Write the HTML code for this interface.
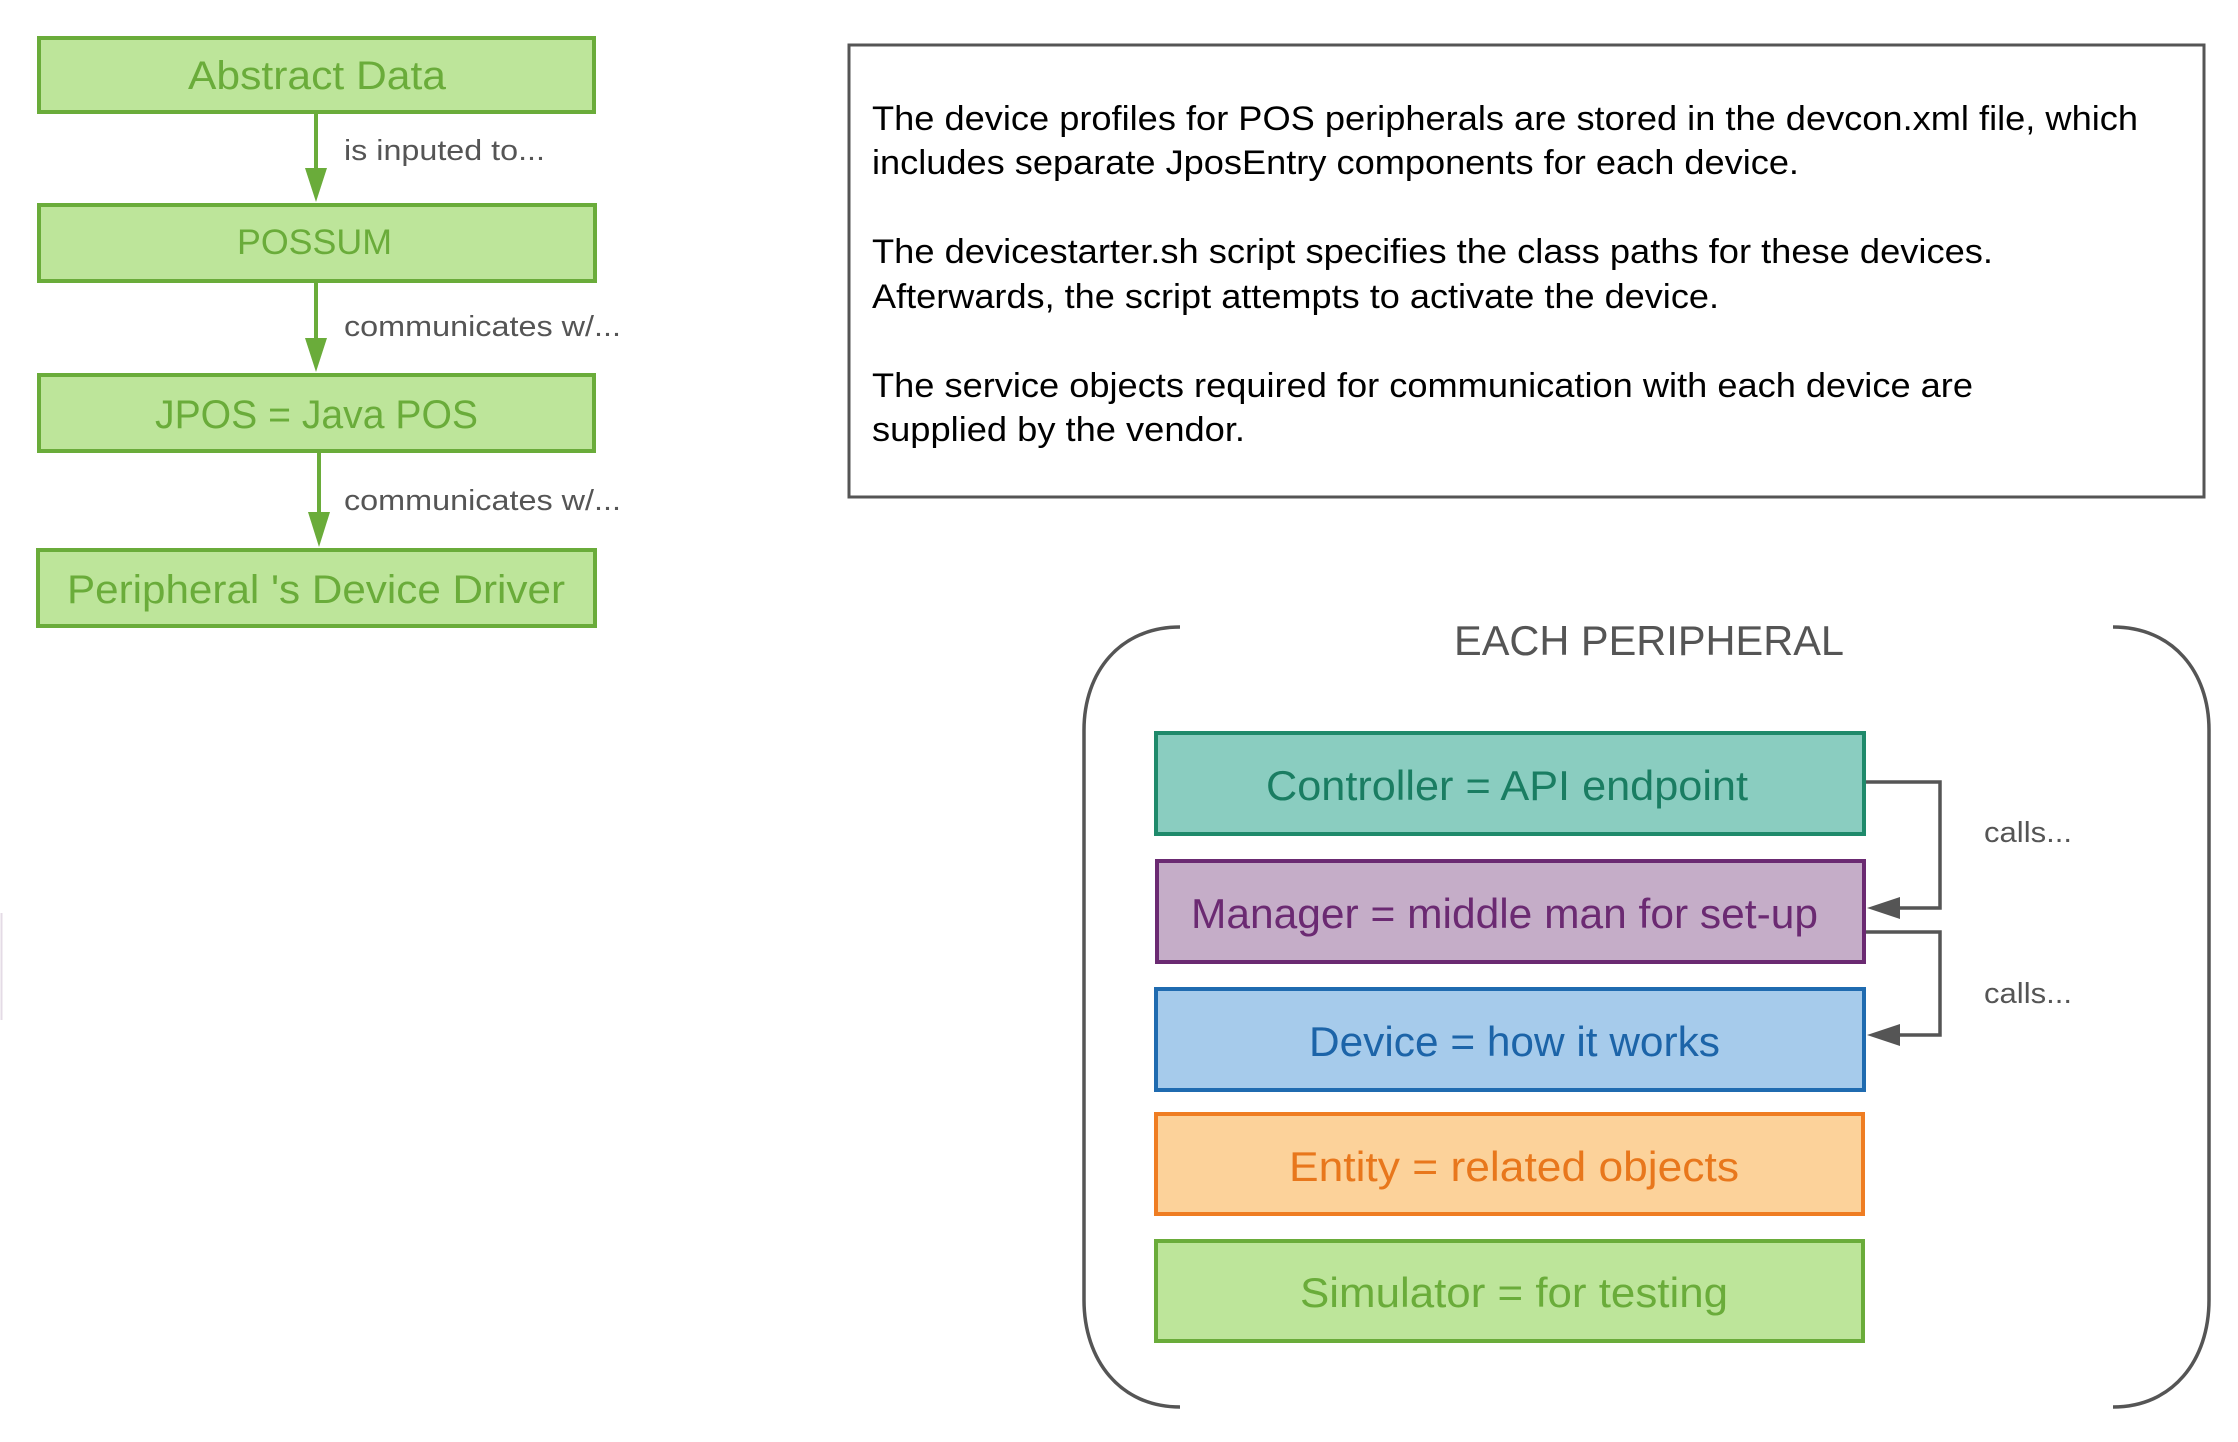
<!DOCTYPE html>
<html><head><meta charset="utf-8"><style>
html,body{margin:0;padding:0;background:#fff;}
svg{display:block;}
</style></head><body>
<svg width="2238" height="1442" viewBox="0 0 2238 1442" xmlns="http://www.w3.org/2000/svg" font-family="Liberation Sans, sans-serif">
<line x1="1.5" y1="913" x2="1.5" y2="1020" stroke="#e4dbe6" stroke-width="2"/>
<!-- left chain -->
<g stroke="#6aac3a" stroke-width="4" fill="#bde59a">
<rect x="39" y="38" width="555" height="74"/>
<rect x="39" y="205" width="556" height="76"/>
<rect x="39" y="375" width="555" height="76"/>
<rect x="38" y="550" width="557" height="76"/>
</g>
<g stroke="#6aac3a" stroke-width="4">
<line x1="316" y1="112" x2="316" y2="178"/>
<line x1="316" y1="281" x2="316" y2="348"/>
<line x1="319" y1="451" x2="319" y2="523"/>
</g>
<g fill="#6aac3a">
<polygon points="305,168 327,168 316,202"/>
<polygon points="305,338 327,338 316,372"/>
<polygon points="308,512 330,512 319,547"/>
</g>
<g fill="#6aac3a" text-anchor="start">
<text x="188" y="89" font-size="40" textLength="258" lengthAdjust="spacingAndGlyphs">Abstract Data</text>
<text x="237" y="254" font-size="35" textLength="155" lengthAdjust="spacingAndGlyphs">POSSUM</text>
<text x="155" y="428" font-size="40" textLength="323" lengthAdjust="spacingAndGlyphs">JPOS = Java POS</text>
<text x="67" y="603" font-size="40" textLength="498" lengthAdjust="spacingAndGlyphs">Peripheral 's Device Driver</text>
</g>
<g fill="#555" font-size="29">
<text x="344" y="160" textLength="201" lengthAdjust="spacingAndGlyphs">is inputed to...</text>
<text x="344" y="336" textLength="277" lengthAdjust="spacingAndGlyphs">communicates w/...</text>
<text x="344" y="510" textLength="277" lengthAdjust="spacingAndGlyphs">communicates w/...</text>
</g>
<!-- text box -->
<rect x="849" y="45" width="1355" height="452" fill="#fff" stroke="#555" stroke-width="3"/>
<g fill="#000" font-size="34">
<text x="872" y="130" textLength="1266" lengthAdjust="spacingAndGlyphs">The device profiles for POS peripherals are stored in the devcon.xml file, which</text>
<text x="872" y="174" textLength="927" lengthAdjust="spacingAndGlyphs">includes separate JposEntry components for each device.</text>
<text x="872" y="263" textLength="1121" lengthAdjust="spacingAndGlyphs">The devicestarter.sh script specifies the class paths for these devices.</text>
<text x="872" y="308" textLength="847" lengthAdjust="spacingAndGlyphs">Afterwards, the script attempts to activate the device.</text>
<text x="872" y="397" textLength="1101" lengthAdjust="spacingAndGlyphs">The service objects required for communication with each device are</text>
<text x="872" y="441" textLength="373" lengthAdjust="spacingAndGlyphs">supplied by the vendor.</text>
</g>
<!-- brackets -->
<g fill="none" stroke="#555" stroke-width="3.5">
<path d="M1180,627 C1120,627 1084,672 1084,730 L1084,1300 C1084,1360 1120,1407 1180,1407"/>
<path d="M2113,627 C2173,627 2209,672 2209,730 L2209,1300 C2209,1360 2173,1407 2113,1407"/>
</g>
<text x="1454" y="655" font-size="42" fill="#555" textLength="390" lengthAdjust="spacingAndGlyphs">EACH PERIPHERAL</text>
<!-- inner boxes -->
<rect x="1156" y="733" width="708" height="101" fill="#8acdc0" stroke="#1f8a6b" stroke-width="4"/>
<rect x="1157" y="861" width="707" height="101" fill="#c5adc8" stroke="#6b2a72" stroke-width="4"/>
<rect x="1156" y="989" width="708" height="101" fill="#a6cbeb" stroke="#1f6bb0" stroke-width="4"/>
<rect x="1156" y="1114" width="707" height="100" fill="#fcd29a" stroke="#ef7d22" stroke-width="4"/>
<rect x="1156" y="1241" width="707" height="100" fill="#bde59a" stroke="#6aac3a" stroke-width="4"/>
<g font-size="42">
<text x="1266" y="800" fill="#1a7d62" textLength="482" lengthAdjust="spacingAndGlyphs">Controller = API endpoint</text>
<text x="1191" y="928" fill="#6b2a72" textLength="627" lengthAdjust="spacingAndGlyphs">Manager = middle man for set-up</text>
<text x="1309" y="1056" fill="#1c64a8" textLength="411" lengthAdjust="spacingAndGlyphs">Device = how it works</text>
<text x="1289" y="1181" fill="#e8771c" textLength="450" lengthAdjust="spacingAndGlyphs">Entity =  related objects</text>
<text x="1300" y="1307" fill="#6aac3a" textLength="428" lengthAdjust="spacingAndGlyphs">Simulator = for testing</text>
</g>
<!-- connectors -->
<g fill="none" stroke="#555" stroke-width="3.5">
<polyline points="1866,782 1940,782 1940,908 1895,908"/>
<polyline points="1866,932 1940,932 1940,1035 1895,1035"/>
</g>
<g fill="#555">
<polygon points="1867,908 1900,897 1900,919"/>
<polygon points="1867,1035 1900,1024 1900,1046"/>
</g>
<g fill="#555" font-size="29">
<text x="1984" y="842" textLength="88" lengthAdjust="spacingAndGlyphs">calls...</text>
<text x="1984" y="1003" textLength="88" lengthAdjust="spacingAndGlyphs">calls...</text>
</g>
</svg>
</body></html>
